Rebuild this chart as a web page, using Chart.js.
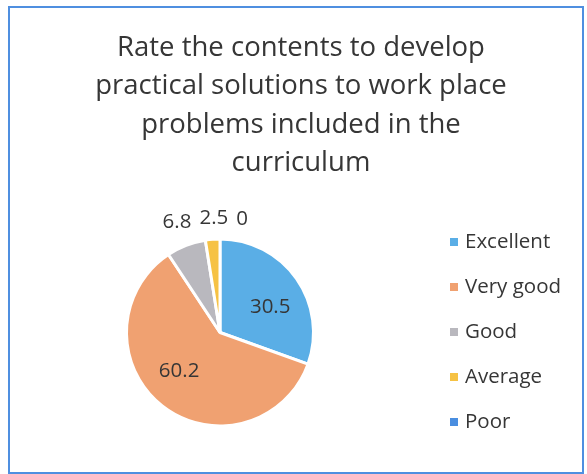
<!DOCTYPE html>
<html>
<head>
<meta charset="utf-8">
<script src="https://cdn.jsdelivr.net/npm/chart.js"></script>
<style>
  html, body { margin: 0; padding: 0; background: #fff; }
  #wrap { position: relative; width: 587px; height: 474px; }
</style>
</head>
<body>
<div id="wrap"><canvas id="pie" width="587" height="474"></canvas></div>
<script>
// chart data
const categories = ['Excellent', 'Very good', 'Good', 'Average', 'Poor'];
const values = [30.5, 60.2, 6.8, 2.5, 0];
const colors = ['#5aaee6', '#f0a171', '#b9b8be', '#f6c244', '#4a8ee0'];
const titleLines = ['Rate the contents to develop', 'practical solutions to work place', 'problems included in the', 'curriculum'];

const FONT = '"Open Sans", Calibri, sans-serif';
const TEXT = '#363636';

// frame + title
const framePlugin = {
  id: 'frame',
  beforeDraw(chart) {
    const ctx = chart.ctx;
    ctx.save();
    ctx.fillStyle = '#fff';
    ctx.fillRect(0, 0, chart.width, chart.height);
    ctx.strokeStyle = '#4f8fe0';
    ctx.lineWidth = 2;
    ctx.strokeRect(9, 7, 574, 466);
    ctx.restore();
  },
  afterDraw(chart) {
    const ctx = chart.ctx;
    ctx.save();
    ctx.fillStyle = TEXT;
    ctx.font = '27.5px ' + FONT;
    ctx.textAlign = 'center';
    ctx.textBaseline = 'middle';
    titleLines.forEach((l, i) => ctx.fillText(l, 301, 48 + i * 38.5));
    ctx.restore();
  }
};

// legend on right
const legendPlugin = {
  id: 'sideLegend',
  afterDraw(chart) {
    const ctx = chart.ctx;
    ctx.save();
    ctx.font = '20.5px ' + FONT;
    ctx.textBaseline = 'middle';
    ctx.textAlign = 'left';
    categories.forEach((c, i) => {
      const y = 242 + i * 45;
      ctx.fillStyle = colors[i];
      ctx.fillRect(450, y - 4, 8, 8);
      ctx.fillStyle = TEXT;
      ctx.fillText(c, 465, y);
    });
    ctx.restore();
  }
};

// value labels, inside for big slices, outside for small ones
const labelPlugin = {
  id: 'valueLabels',
  afterDatasetsDraw(chart) {
    const ctx = chart.ctx;
    const meta = chart.getDatasetMeta(0);
    ctx.save();
    ctx.font = '20.5px ' + FONT;
    ctx.fillStyle = TEXT;
    ctx.textAlign = 'center';
    ctx.textBaseline = 'middle';
    const outside = [];
    meta.data.forEach((arc, i) => {
      const p = arc.getProps(['x', 'y', 'startAngle', 'endAngle', 'outerRadius'], true);
      const mid = (p.startAngle + p.endAngle) / 2;
      const txt = String(values[i]);
      const w = ctx.measureText(txt).width;
      if (values[i] >= 15) {
        const r = p.outerRadius * 0.6;
        ctx.fillText(txt, p.x + Math.cos(mid + 0.15) * r, p.y + Math.sin(mid + 0.15) * r);
      } else {
        const r = p.outerRadius + 20 + Math.abs(Math.cos(mid)) * w / 2;
        outside.push({ txt, w, x: p.x + Math.cos(mid) * r, y: p.y + Math.sin(mid) * r });
      }
    });
    outside.sort((a, b) => a.x - b.x);
    for (let i = 1; i < outside.length; i++) {
      const a = outside[i - 1], b = outside[i];
      const minX = a.x + a.w / 2 + 8 + b.w / 2;
      if (b.x < minX) b.x = minX;
    }
    outside.forEach(o => ctx.fillText(o.txt, o.x, o.y));
    ctx.restore();
  }
};

new Chart(document.getElementById('pie'), {
  type: 'pie',
  data: {
    labels: categories,
    datasets: [{
      data: values,
      backgroundColor: colors,
      borderColor: '#ffffff',
      borderWidth: 3
    }]
  },
  options: {
    responsive: false,
    animation: false,
    layout: { padding: { left: 125, right: 272, top: 237, bottom: 46 } },
    plugins: { legend: { display: false }, tooltip: { enabled: false }, title: { display: false } }
  },
  plugins: [framePlugin, labelPlugin, legendPlugin]
});
</script>
</body>
</html>
